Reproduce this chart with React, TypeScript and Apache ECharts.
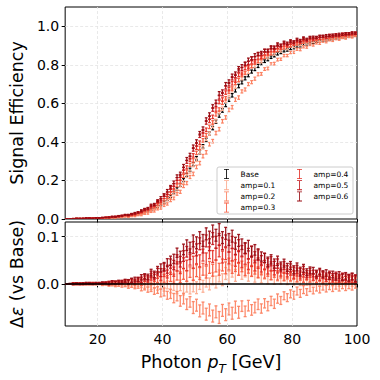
import React, { useEffect, useRef } from 'react';
import * as echarts from 'echarts';

// bin centres of 1 GeV bins from 10 to 100 GeV
const ptBins: number[] = Array.from({ length: 90 }, (_, i) => 10.5 + i);

const baseEff = [
  0.001, 0.001, 0.001, 0.002, 0.002, 0.002, 0.003, 0.003, 0.003, 0.004,
  0.004, 0.005, 0.006, 0.007, 0.008, 0.009, 0.011, 0.013, 0.015, 0.016,
  0.018, 0.021, 0.025, 0.030, 0.035, 0.041, 0.048, 0.056, 0.065, 0.076,
  0.088, 0.102, 0.118, 0.137, 0.156, 0.177, 0.202, 0.229, 0.256, 0.284,
  0.315, 0.347, 0.377, 0.410, 0.443, 0.472, 0.505, 0.537, 0.563, 0.592,
  0.619, 0.642, 0.668, 0.690, 0.709, 0.730, 0.746, 0.765, 0.778, 0.794,
  0.805, 0.819, 0.828, 0.840, 0.848, 0.858, 0.864, 0.873, 0.877, 0.885,
  0.889, 0.896, 0.899, 0.906, 0.908, 0.914, 0.916, 0.921, 0.923, 0.928,
  0.929, 0.934, 0.935, 0.939, 0.940, 0.944, 0.945, 0.949, 0.950, 0.953,
];

const effErr = [
  0.000, 0.000, 0.001, 0.001, 0.001, 0.001, 0.001, 0.001, 0.001, 0.001,
  0.001, 0.001, 0.001, 0.002, 0.002, 0.002, 0.002, 0.002, 0.002, 0.003,
  0.003, 0.003, 0.003, 0.004, 0.004, 0.004, 0.005, 0.005, 0.005, 0.006,
  0.006, 0.006, 0.007, 0.007, 0.007, 0.008, 0.008, 0.008, 0.008, 0.009,
  0.009, 0.009, 0.009, 0.009, 0.009, 0.009, 0.009, 0.009, 0.009, 0.009,
  0.009, 0.009, 0.009, 0.009, 0.008, 0.008, 0.008, 0.008, 0.008, 0.008,
  0.007, 0.007, 0.007, 0.007, 0.007, 0.007, 0.006, 0.006, 0.006, 0.006,
  0.006, 0.006, 0.006, 0.006, 0.005, 0.005, 0.005, 0.005, 0.005, 0.005,
  0.005, 0.005, 0.005, 0.005, 0.005, 0.005, 0.005, 0.005, 0.005, 0.005,
];

const deltaAmp01 = [
  0.000, 0.000, 0.000, 0.000, 0.000, 0.000, 0.000, 0.000, 0.000, 0.000,
  0.000, 0.001, -0.001, 0.000, -0.001, 0.000, -0.002, 0.000, -0.001, -0.002,
  0.000, -0.003, -0.001, -0.002, -0.004, -0.001, -0.005, -0.002, -0.006, -0.003,
  -0.007, -0.002, -0.009, -0.004, -0.011, -0.003, -0.012, -0.006, -0.010, -0.004,
  -0.008, 0.001, -0.005, 0.006, 0.000, 0.011, 0.004, 0.017, 0.009, 0.022,
  0.014, 0.027, 0.018, 0.031, 0.021, 0.026, 0.017, 0.028, 0.015, 0.023,
  0.012, 0.020, 0.010, 0.018, 0.009, 0.016, 0.008, 0.014, 0.007, 0.013,
  0.006, 0.012, 0.005, 0.011, 0.004, 0.010, 0.005, 0.009, 0.003, 0.008,
  0.004, 0.008, 0.003, 0.007, 0.002, 0.006, 0.003, 0.006, 0.002, 0.005,
];

const deltaAmp02 = [
  0.000, 0.000, -0.001, 0.000, 0.000, -0.001, 0.000, -0.001, 0.000, -0.001,
  0.000, -0.002, -0.001, -0.002, -0.001, -0.003, -0.002, -0.004, -0.003, -0.005,
  -0.003, -0.006, -0.005, -0.009, -0.007, -0.012, -0.009, -0.015, -0.013, -0.019,
  -0.017, -0.024, -0.021, -0.030, -0.026, -0.036, -0.031, -0.043, -0.038, -0.050,
  -0.045, -0.057, -0.051, -0.064, -0.055, -0.068, -0.059, -0.071, -0.056, -0.065,
  -0.053, -0.062, -0.049, -0.060, -0.047, -0.058, -0.046, -0.055, -0.050, -0.043,
  -0.052, -0.041, -0.047, -0.036, -0.042, -0.031, -0.035, -0.025, -0.029, -0.021,
  -0.024, -0.015, -0.020, -0.012, -0.017, -0.009, -0.014, -0.008, -0.012, -0.006,
  -0.010, -0.005, -0.009, -0.004, -0.008, -0.003, -0.007, -0.003, -0.006, -0.002,
];

const deltaAmp03 = [
  0.000, 0.000, 0.001, 0.000, 0.000, 0.001, 0.000, 0.001, 0.000, 0.001,
  0.001, 0.000, 0.002, 0.001, 0.002, 0.001, 0.003, 0.002, 0.003, 0.002,
  0.004, 0.002, 0.005, 0.003, 0.006, 0.004, 0.008, 0.006, 0.010, 0.007,
  0.012, 0.009, 0.015, 0.011, 0.018, 0.014, 0.021, 0.017, 0.025, 0.020,
  0.028, 0.022, 0.031, 0.025, 0.035, 0.029, 0.038, 0.031, 0.040, 0.034,
  0.042, 0.035, 0.039, 0.031, 0.037, 0.029, 0.034, 0.027, 0.032, 0.025,
  0.029, 0.022, 0.026, 0.019, 0.024, 0.018, 0.021, 0.016, 0.019, 0.015,
  0.018, 0.013, 0.016, 0.012, 0.015, 0.011, 0.014, 0.010, 0.013, 0.009,
  0.012, 0.008, 0.011, 0.008, 0.010, 0.007, 0.009, 0.007, 0.009, 0.006,
];

const deltaAmp04 = [
  0.000, 0.000, 0.000, 0.001, 0.000, 0.001, 0.000, 0.001, 0.002, 0.001,
  0.001, 0.002, 0.001, 0.003, 0.002, 0.003, 0.004, 0.002, 0.005, 0.004,
  0.006, 0.004, 0.008, 0.007, 0.011, 0.009, 0.015, 0.013, 0.019, 0.016,
  0.024, 0.021, 0.030, 0.026, 0.037, 0.033, 0.044, 0.039, 0.051, 0.046,
  0.055, 0.049, 0.061, 0.053, 0.066, 0.058, 0.063, 0.070, 0.057, 0.064,
  0.055, 0.062, 0.050, 0.058, 0.046, 0.053, 0.042, 0.048, 0.039, 0.044,
  0.035, 0.040, 0.031, 0.037, 0.029, 0.033, 0.025, 0.031, 0.023, 0.027,
  0.020, 0.025, 0.019, 0.023, 0.017, 0.021, 0.015, 0.020, 0.014, 0.018,
  0.012, 0.016, 0.011, 0.015, 0.010, 0.014, 0.009, 0.013, 0.010, 0.012,
];

const deltaAmp05 = [
  0.000, 0.000, 0.001, 0.000, 0.001, 0.000, 0.001, 0.002, 0.001, 0.001,
  0.002, 0.001, 0.003, 0.002, 0.004, 0.003, 0.002, 0.005, 0.006, 0.004,
  0.007, 0.006, 0.010, 0.009, 0.014, 0.012, 0.020, 0.017, 0.026, 0.024,
  0.035, 0.031, 0.043, 0.040, 0.052, 0.047, 0.059, 0.068, 0.063, 0.077,
  0.072, 0.085, 0.078, 0.091, 0.083, 0.096, 0.088, 0.094, 0.085, 0.091,
  0.080, 0.088, 0.074, 0.081, 0.070, 0.075, 0.064, 0.069, 0.057, 0.061,
  0.050, 0.055, 0.044, 0.048, 0.038, 0.043, 0.034, 0.039, 0.030, 0.034,
  0.027, 0.031, 0.024, 0.029, 0.021, 0.026, 0.022, 0.018, 0.023, 0.019,
  0.016, 0.020, 0.015, 0.018, 0.013, 0.016, 0.014, 0.011, 0.015, 0.010,
];

const deltaAmp06 = [
  0.000, 0.001, 0.000, 0.001, 0.000, 0.001, 0.002, 0.001, 0.000, 0.002,
  0.001, 0.003, 0.002, 0.001, 0.004, 0.003, 0.005, 0.004, 0.007, 0.005,
  0.008, 0.010, 0.009, 0.014, 0.016, 0.015, 0.024, 0.020, 0.030, 0.034,
  0.037, 0.045, 0.049, 0.053, 0.066, 0.058, 0.073, 0.082, 0.077, 0.091,
  0.087, 0.098, 0.092, 0.106, 0.099, 0.112, 0.103, 0.115, 0.098, 0.107,
  0.094, 0.101, 0.086, 0.092, 0.084, 0.076, 0.081, 0.068, 0.072, 0.063,
  0.058, 0.055, 0.047, 0.052, 0.043, 0.049, 0.038, 0.044, 0.035, 0.039,
  0.030, 0.036, 0.027, 0.033, 0.025, 0.029, 0.028, 0.022, 0.026, 0.021,
  0.023, 0.017, 0.020, 0.015, 0.019, 0.014, 0.017, 0.013, 0.016, 0.012,
];

const baseName = 'Base';
const baseColor = '#000000';
const ampNames = ['amp=0.1', 'amp=0.2', 'amp=0.3', 'amp=0.4', 'amp=0.5', 'amp=0.6'];
const ampColors = ['#fcab8f', '#fc8161', '#f75b40', '#e53228', '#c2161b', '#990c13'];
const ampDeltas = [deltaAmp01, deltaAmp02, deltaAmp03, deltaAmp04, deltaAmp05, deltaAmp06];

const xTicks = [20, 40, 60, 80, 100];
const xGrid = [20, 40, 60, 80];
const yTicksTop = [0, 0.2, 0.4, 0.6, 0.8, 1.0];
const yGridTop = [0.2, 0.4, 0.6, 0.8, 1.0];
const yTicksBottom = [0, 0.1];
const yGridBottom = [0.1];

const FONT = 'DejaVu Sans';
const IBEAM = 'path://M0,0H6V1H3.5V11H6V12H0V11H2.5V1H0Z';

function errSeries(name: string, color: string, idx: number, pts: number[][], capHalf: number, opacity: number, lw: number, z: number) {
  return {
    type: 'custom',
    name,
    xAxisIndex: idx,
    yAxisIndex: idx,
    clip: true,
    silent: true,
    z,
    itemStyle: { color },
    encode: { x: 0, y: [1, 2] },
    data: pts,
    renderItem: (_params: any, api: any) => {
      const x = api.value(0);
      const lo = api.value(1);
      const hi = api.value(2);
      const a = api.coord([x, lo]);
      const b = api.coord([x, hi]);
      const style = { stroke: color, lineWidth: lw, opacity };
      return {
        type: 'group',
        children: [
          { type: 'line', shape: { x1: a[0], y1: a[1], x2: b[0], y2: b[1] }, style },
          { type: 'line', shape: { x1: a[0] - capHalf, y1: a[1], x2: a[0] + capHalf, y2: a[1] }, style },
          { type: 'line', shape: { x1: b[0] - capHalf, y1: b[1], x2: b[0] + capHalf, y2: b[1] }, style },
        ],
      };
    },
  };
}

function buildOption() {
  const series: any[] = [];
  const gridLineStyle = { color: '#e3e3e3', type: [3, 2], width: 0.8 };
  series.push({
    type: 'line', xAxisIndex: 0, yAxisIndex: 0, data: [], silent: true, z: 1,
    markLine: {
      silent: true, symbol: ['none', 'none'], label: { show: false }, animation: false,
      lineStyle: gridLineStyle,
      data: [...xGrid.map((v) => ({ xAxis: v })), ...yGridTop.map((v) => ({ yAxis: v }))],
    },
  });
  series.push({
    type: 'line', xAxisIndex: 1, yAxisIndex: 1, data: [], silent: true, z: 1,
    markLine: {
      silent: true, symbol: ['none', 'none'], label: { show: false }, animation: false,
      lineStyle: gridLineStyle,
      data: [...xGrid.map((v) => ({ xAxis: v })), ...yGridBottom.map((v) => ({ yAxis: v }))],
    },
  });

  series.push(errSeries(baseName, baseColor, 0,
    ptBins.map((x, i) => [x, baseEff[i] - effErr[i], baseEff[i] + effErr[i]]), 1.4, 1, 1.2, 3));
  ampNames.forEach((n, k) => {
    const d = ampDeltas[k];
    series.push(errSeries(n, ampColors[k], 0,
      ptBins.map((x, i) => [x, baseEff[i] + d[i] - effErr[i], baseEff[i] + d[i] + effErr[i]]), 1.4, 1, 1.2, 3 + k));
  });
  ampNames.forEach((n, k) => {
    const d = ampDeltas[k];
    series.push(errSeries(n, ampColors[k], 1,
      ptBins.map((x, i) => [x, d[i] - 1.4 * effErr[i], d[i] + 1.4 * effErr[i]]), 1.5, 0.92, 1.3, 3 + k));
  });
  series.push({
    type: 'line', xAxisIndex: 1, yAxisIndex: 1, silent: true, z: 20, symbol: 'none',
    data: [[10, 0], [100, 0]], lineStyle: { color: '#000', width: 1.5 },
  });

  const axisLabelStyle = { fontSize: 14, fontFamily: FONT, color: '#000' };
  const tick = { show: true, length: 3.5, inside: false, lineStyle: { color: '#000', width: 1 } };

  const legendBase = {
    orient: 'vertical', itemWidth: 6, itemHeight: 10, itemGap: 1.2, padding: 0,
    selectedMode: false, z: 60,
    textStyle: { fontSize: 7.5, fontFamily: FONT, color: '#000', padding: [0, 0, 0, 6] },
  };

  return {
    animation: false,
    textStyle: { fontFamily: FONT },
    grid: [
      { left: 62.5, top: 7, width: 294.5, height: 212, show: true, borderColor: '#000', borderWidth: 1, backgroundColor: 'transparent' },
      { left: 62.5, top: 222, width: 294.5, height: 104, show: true, borderColor: '#000', borderWidth: 1, backgroundColor: 'transparent' },
    ],
    xAxis: [
      {
        type: 'value', gridIndex: 0, min: 10, max: 100,
        axisLine: { show: false }, splitLine: { show: false },
        axisTick: { ...tick, customValues: xTicks },
        axisLabel: { show: false },
      },
      {
        type: 'value', gridIndex: 1, min: 10, max: 100,
        axisLine: { show: false }, splitLine: { show: false },
        axisTick: { ...tick, customValues: xTicks },
        axisLabel: { ...axisLabelStyle, margin: 6, customValues: xTicks, formatter: (v: number) => String(v) },
        name: '{n|Photon }{i|p}{s|T}{n| [GeV]}',
        nameLocation: 'middle', nameGap: 23,
        nameTextStyle: {
          fontSize: 17.5, fontFamily: FONT, color: '#000',
          rich: {
            n: { fontSize: 17.5, fontFamily: FONT, color: '#000', lineHeight: 26 },
            i: { fontSize: 17.5, fontFamily: FONT, color: '#000', fontStyle: 'italic', lineHeight: 26 },
            s: { fontSize: 12, fontFamily: FONT, color: '#000', fontStyle: 'italic', lineHeight: 16, verticalAlign: 'bottom' },
          },
        },
      },
    ],
    yAxis: [
      {
        type: 'value', gridIndex: 0, min: 0, max: 1.1,
        axisLine: { show: false }, splitLine: { show: false },
        axisTick: { ...tick, customValues: yTicksTop },
        axisLabel: { ...axisLabelStyle, margin: 6, customValues: yTicksTop, formatter: (v: number) => v.toFixed(1) },
        name: 'Signal Efficiency', nameLocation: 'middle', nameGap: 37,
        nameTextStyle: { fontSize: 17.5, fontFamily: FONT, color: '#000' },
      },
      {
        type: 'value', gridIndex: 1, min: -0.089, max: 0.131,
        axisLine: { show: false }, splitLine: { show: false },
        axisTick: { ...tick, customValues: yTicksBottom },
        axisLabel: { ...axisLabelStyle, margin: 6, customValues: yTicksBottom, formatter: (v: number) => v.toFixed(1) },
        name: '{d|Δ}{e|ε}{d| (vs Base)}', nameLocation: 'middle', nameGap: 37,
        nameTextStyle: {
          fontSize: 17.5, fontFamily: FONT, color: '#000',
          rich: {
            d: { fontSize: 17.5, fontFamily: FONT, color: '#000' },
            e: { fontSize: 17.5, fontFamily: FONT, color: '#000', fontStyle: 'italic' },
          },
        },
      },
    ],
    legend: [
      { ...legendBase, left: 224, top: 169, data: [baseName, ...ampNames.slice(0, 3)].map((n) => ({ name: n, icon: IBEAM })) },
      { ...legendBase, left: 297, top: 169, data: ampNames.slice(3).map((n) => ({ name: n, icon: IBEAM })) },
    ],
    graphic: [
      {
        type: 'rect', z: 50, silent: true,
        shape: { x: 217, y: 167, width: 136, height: 47, r: 2 },
        style: { fill: 'rgba(255,255,255,0.8)', stroke: '#cccccc', lineWidth: 1 },
      },
    ],
    series,
  };
}

export default function App() {
  const ref = useRef<HTMLDivElement>(null);
  useEffect(() => {
    if (!ref.current) return;
    const chart = echarts.init(ref.current, null, { renderer: 'svg' });
    chart.setOption(buildOption() as any);
    return () => chart.dispose();
  }, []);
  return <div ref={ref} style={{ position: 'absolute', left: 0, top: 0, width: 380, height: 380, background: '#fff' }} />;
}
